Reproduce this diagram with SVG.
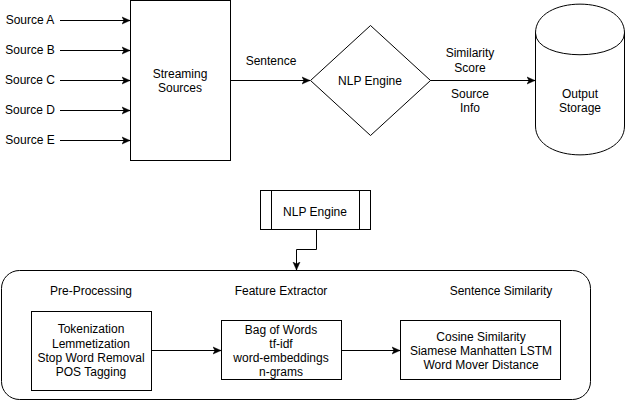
<svg xmlns="http://www.w3.org/2000/svg" width="626" height="401" viewBox="0 0 626 401">
<style>
.s{fill:#fff;stroke:#000;stroke-width:1}
.c{fill:none;stroke:#000;stroke-width:1}
text{font-family:"Liberation Sans",Arial,sans-serif;font-size:12px;fill:#000;text-anchor:middle}
</style>
<defs>
<marker id="a" markerUnits="userSpaceOnUse" markerWidth="9" markerHeight="9" refX="8" refY="4.5" orient="auto">
<path d="M0,1 L8,4.5 L0,8 L2,4.5 Z" fill="#000" stroke="#000" stroke-width="0.5"/>
</marker>
</defs>
<rect width="626" height="401" fill="#fff"/>
<g id="connectors">
<path class="c" d="M60,20.5 H130" marker-end="url(#a)"/>
<path class="c" d="M60,50.5 H130" marker-end="url(#a)"/>
<path class="c" d="M60,80.5 H130" marker-end="url(#a)"/>
<path class="c" d="M60,110.5 H130" marker-end="url(#a)"/>
<path class="c" d="M60,140.5 H130" marker-end="url(#a)"/>
<path class="c" d="M230,80.5 H310" marker-end="url(#a)"/>
<path class="c" d="M430,80.5 H535" marker-end="url(#a)"/>
<path class="c" d="M316.5,230 V249.5 H296.5 V270" marker-end="url(#a)"/>
<path class="c" d="M151,350.5 H221" marker-end="url(#a)"/>
<path class="c" d="M341,350.5 H400" marker-end="url(#a)"/>
</g>
<g id="source-labels">
<text x="30" y="24">Source A</text>
<text x="30" y="54">Source B</text>
<text x="30" y="84">Source C</text>
<text x="30" y="114">Source D</text>
<text x="30" y="144">Source E</text>
</g>
<g id="edge-labels">
<text x="271" y="65">Sentence</text>
<text x="470" y="57">Similarity</text>
<text x="470" y="72">Score</text>
<text x="470" y="98">Source</text>
<text x="470" y="112">Info</text>
</g>
<g id="streaming-sources">
<rect class="s" x="130.5" y="0.5" width="100" height="160"/>
<text x="180" y="78">Streaming</text>
<text x="180" y="92">Sources</text>
</g>
<g id="nlp-engine-decision">
<path class="s" d="M370.5,25.5 L430.5,80.5 L370.5,135.5 L310.5,80.5 Z"/>
<text x="370" y="85">NLP Engine</text>
</g>
<g id="output-storage">
<path class="s" d="M535.5,33 C535.5,-5.5 624.5,-5.5 624.5,33 L624.5,126 C624.5,164.5 535.5,164.5 535.5,126 Z"/>
<path class="c" d="M535.5,33 C535.5,62 624.5,62 624.5,33"/>
<text x="580" y="98">Output</text>
<text x="580" y="112">Storage</text>
</g>
<g id="nlp-engine-process">
<rect class="s" x="260.5" y="190.5" width="110" height="39"/>
<path class="c" d="M271.5,190.5 V229.5 M359.5,190.5 V229.5"/>
<text x="315" y="216">NLP Engine</text>
</g>
<g id="nlp-container">
<rect class="c" x="1.5" y="270.5" width="589" height="129" rx="18" ry="18"/>
<text x="91" y="295">Pre-Processing</text>
<text x="281" y="295">Feature Extractor</text>
<text x="501" y="295">Sentence Similarity</text>
</g>
<g id="pre-processing">
<rect class="s" x="31.5" y="311.5" width="120" height="79"/>
<text x="91" y="333">Tokenization</text>
<text x="91" y="348">Lemmetization</text>
<text x="91" y="362">Stop Word Removal</text>
<text x="91" y="376">POS Tagging</text>
</g>
<g id="feature-extractor">
<rect class="s" x="221.5" y="320.5" width="120" height="59"/>
<text x="281" y="334">Bag of Words</text>
<text x="281" y="348">tf-idf</text>
<text x="281" y="362">word-embeddings</text>
<text x="281" y="376">n-grams</text>
</g>
<g id="sentence-similarity">
<rect class="s" x="400.5" y="320.5" width="160" height="59"/>
<text x="481" y="341">Cosine Similarity</text>
<text x="481" y="355">Siamese Manhatten LSTM</text>
<text x="481" y="369">Word Mover Distance</text>
</g>
</svg>
